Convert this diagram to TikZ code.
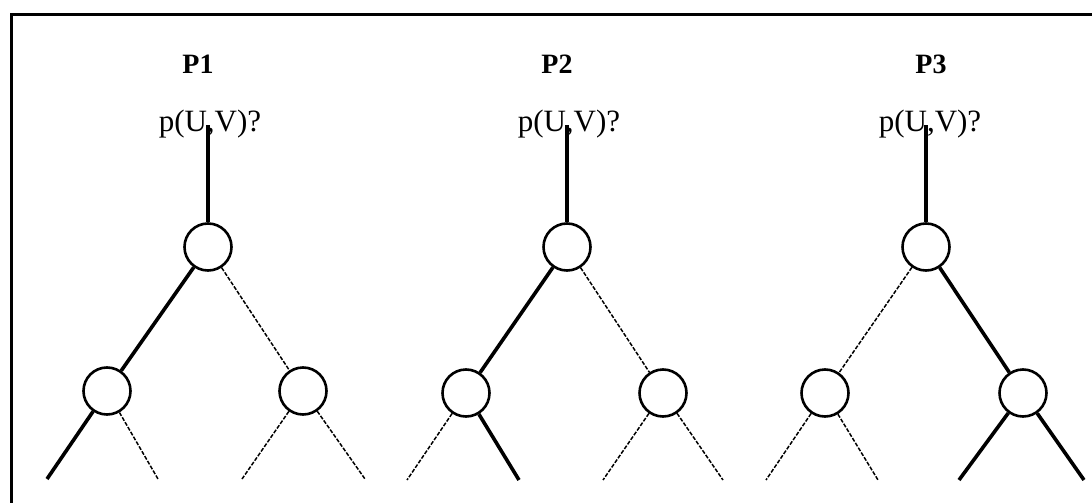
\documentclass[tikz,border=0pt]{standalone}
\usepackage{fontspec}
\setmainfont{Liberation Serif}
\begin{document}
\begin{tikzpicture}[x=1pt,y=-1pt,
  vertex/.style={circle, draw, line width=2.6pt, minimum size=47pt, inner sep=0pt},
  taken/.style={line width=3.6pt},
  other/.style={line width=1.5pt, dash pattern=on 4pt off 1.6pt},
  title/.style={font=\fontsize{28}{33}\selectfont\bfseries, anchor=base},
  goal/.style={font=\fontsize{31}{37}\selectfont, anchor=base}]
\useasboundingbox (0,0) rectangle (1092,503);
% open frame: left and top sides
\draw[line width=3pt] (11,503) -- (11,15) -- (1092,15);

% ---------- P1 ----------
\node[title] (t1) at (198,74) {P1};
\node[goal] (g1) at (210,131) {p(U,V)?};
\coordinate (q1) at (208,125);
\node[vertex] (r1) at (208,247) {};
\node[vertex] (a1) at (107,391) {};
\node[vertex] (b1) at (303,391) {};
\coordinate (la1) at (47,479);
\coordinate (ra1) at (158,479);
\coordinate (lb1) at (242,479);
\coordinate (rb1) at (365,479);
\draw[taken] (q1) -- (r1);
\draw[taken] (r1) -- (a1);
\draw[taken] (a1) -- (la1);
\draw[other] (r1) -- (b1);
\draw[other] (a1) -- (ra1);
\draw[other] (b1) -- (lb1);
\draw[other] (b1) -- (rb1);

% ---------- P2 ----------
\node[title] (t2) at (557,74) {P2};
\node[goal] (g2) at (569,131) {p(U,V)?};
\coordinate (q2) at (567,125);
\node[vertex] (r2) at (567,247) {};
\node[vertex] (a2) at (466,393) {};
\node[vertex] (b2) at (663,393) {};
\coordinate (la2) at (407,480);
\coordinate (ra2) at (519,480);
\coordinate (lb2) at (603,480);
\coordinate (rb2) at (723,480);
\draw[taken] (q2) -- (r2);
\draw[taken] (r2) -- (a2);
\draw[taken] (a2) -- (ra2);
\draw[other] (r2) -- (b2);
\draw[other] (a2) -- (la2);
\draw[other] (b2) -- (lb2);
\draw[other] (b2) -- (rb2);

% ---------- P3 ----------
\node[title] (t3) at (931,74) {P3};
\node[goal] (g3) at (930,131) {p(U,V)?};
\coordinate (q3) at (926,125);
\node[vertex] (r3) at (926,247) {};
\node[vertex] (a3) at (825,393) {};
\node[vertex] (b3) at (1023,393) {};
\coordinate (la3) at (766,480);
\coordinate (ra3) at (878,480);
\coordinate (lb3) at (959,480);
\coordinate (rb3) at (1084,480);
\draw[taken] (q3) -- (r3);
\draw[taken] (r3) -- (b3);
\draw[taken] (b3) -- (lb3);
\draw[taken] (b3) -- (rb3);
\draw[other] (r3) -- (a3);
\draw[other] (a3) -- (la3);
\draw[other] (a3) -- (ra3);
\end{tikzpicture}
\end{document}
